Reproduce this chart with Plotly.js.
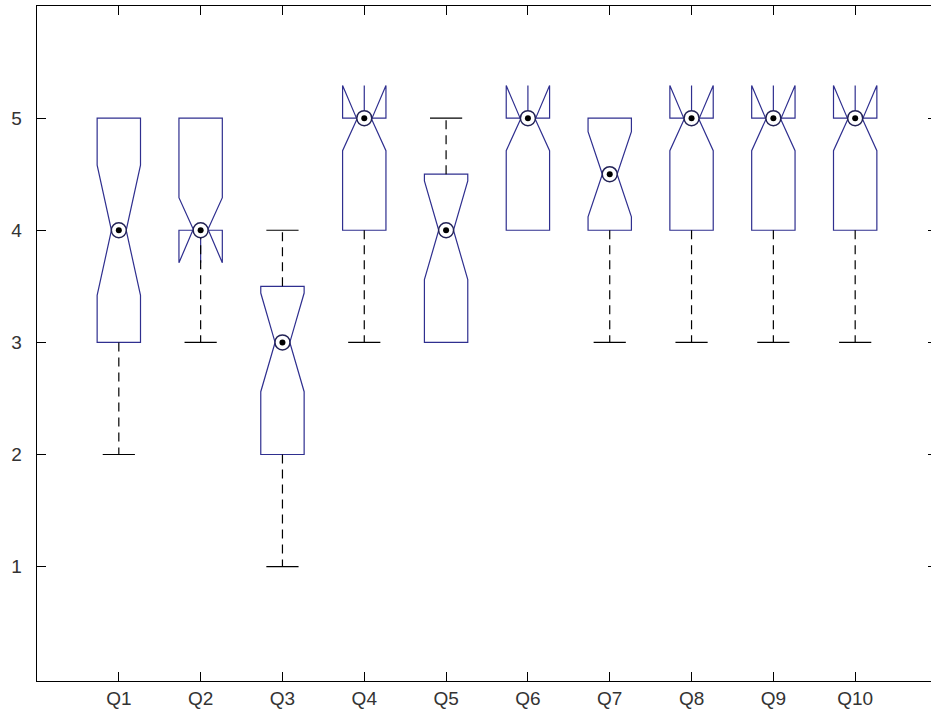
<!DOCTYPE html>
<html>
<head>
<meta charset="utf-8">
<script src="https://cdn.plot.ly/plotly-3.0.1.min.js"></script>
<style>
html,body{margin:0;padding:0;overflow:hidden;background:#fff;width:931px;height:717px;}
#wrap{width:931px;height:717px;overflow:hidden;position:relative;}
#chart{width:980px;height:717px;position:absolute;left:0;top:0;}
</style>
</head>
<body>
<div id="wrap"><div id="chart"></div></div>
<script>
// Data
var labels   = ["Q1","Q2","Q3","Q4","Q5","Q6","Q7","Q8","Q9","Q10"];
var positions = [1,2,3,4,5,6,7,8,9,10];
var q1Vals   = [3, 4, 2,   4, 3,   4, 4,   4, 4, 4];
var medVals  = [4, 4, 3,   5, 4,   5, 4.5, 5, 5, 5];
var q3Vals   = [5, 5, 3.5, 5, 4.5, 5, 5,   5, 5, 5];
var lowWhisk = [2, 3, 1,   3, 3,   4, 3,   3, 3, 3];
var highWhisk= [5, 5, 4,   5, 5,   5, 5,   5, 5, 5];
var notchVals= [0.58, 0.29, 0.44, 0.29, 0.44, 0.29, 0.38, 0.29, 0.29, 0.29];

var boxColor = "#2f2f8f";

// whisker lines (dashed) and caps, built from the arrays
var wx = [], wy = [], capX = [], capY = [];
for (var i = 0; i < positions.length; i++) {
  if (lowWhisk[i] < q1Vals[i]) {
    wx.push(positions[i], positions[i], null);
    wy.push(q1Vals[i], lowWhisk[i], null);
    capX.push(positions[i]); capY.push(lowWhisk[i]);
  }
  if (highWhisk[i] > q3Vals[i]) {
    wx.push(positions[i], positions[i], null);
    wy.push(q3Vals[i], highWhisk[i], null);
    capX.push(positions[i]); capY.push(highWhisk[i]);
  }
}

var traces = [
  {
    type: "box",
    x: positions,
    q1: q1Vals,
    median: medVals,
    q3: q3Vals,
    lowerfence: q1Vals,
    upperfence: q3Vals,
    notchspan: notchVals,
    notched: true,
    notchwidth: 0.33,
    width: 0.53,
    whiskerwidth: 0,
    boxpoints: false,
    line: {color: boxColor, width: 1.2},
    fillcolor: "rgba(0,0,0,0)",
    hoverinfo: "skip",
    showlegend: false
  },
  {
    type: "scatter", mode: "lines",
    x: wx, y: wy,
    line: {color: "#000000", width: 1.2, dash: "9px,6px"},
    hoverinfo: "skip", showlegend: false
  },
  {
    type: "scatter", mode: "markers",
    x: capX, y: capY,
    marker: {symbol: "line-ew", size: 23, line: {color: "#000000", width: 1.2}},
    hoverinfo: "skip", showlegend: false
  },
  {
    type: "scatter", mode: "markers",
    x: positions, y: medVals,
    marker: {symbol: "circle", size: 15, color: "#ffffff", line: {color: "#222255", width: 1.5}},
    hoverinfo: "skip", showlegend: false
  },
  {
    type: "scatter", mode: "markers",
    x: positions, y: medVals,
    marker: {symbol: "circle", size: 6, color: "#000000"},
    hoverinfo: "skip", showlegend: false
  }
];

var layout = {
  width: 980,
  height: 717,
  margin: {l: 37, r: 43, t: 6, b: 36},
  paper_bgcolor: "#ffffff",
  plot_bgcolor: "#ffffff",
  showlegend: false,
  font: {family: "Liberation Sans, Arial, sans-serif", size: 19, color: "#333333"},
  xaxis: {
    range: [0, 11],
    tickvals: positions,
    ticktext: labels,
    ticks: "inside",
    ticklen: 9,
    tickcolor: "#000000",
    showline: true,
    linecolor: "#000000",
    linewidth: 1.3,
    mirror: "ticks",
    showgrid: false,
    zeroline: false,
    tickfont: {size: 19}
  },
  yaxis: {
    range: [-0.02, 6.0],
    tickvals: [1, 2, 3, 4, 5],
    ticks: "inside",
    ticklen: 9,
    ticklabelstandoff: 10,
    tickcolor: "#000000",
    showline: true,
    linecolor: "#000000",
    linewidth: 1.3,
    mirror: "ticks",
    showgrid: false,
    zeroline: false,
    tickfont: {size: 19}
  }
};

Plotly.newPlot("chart", traces, layout, {staticPlot: true, displayModeBar: false});
</script>
</body>
</html>
